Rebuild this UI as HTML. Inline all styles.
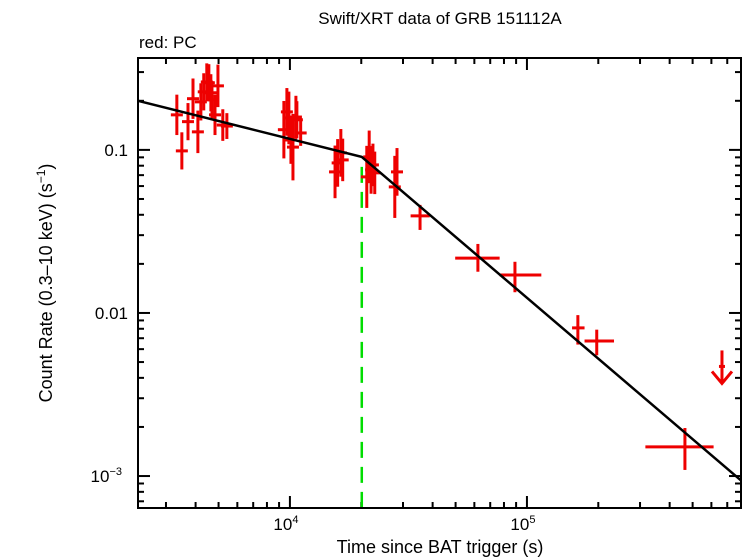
<!DOCTYPE html>
<html><head><meta charset="utf-8">
<style>
body{margin:0;background:#fff;}
svg{display:block;font-family:"Liberation Sans",sans-serif;}
</style></head>
<body>
<svg id="chart" width="746" height="558" viewBox="0 0 746 558" xmlns="http://www.w3.org/2000/svg">
<text x="440" y="24" font-size="17" text-anchor="middle">Swift/XRT data of GRB 151112A</text>
<text x="139" y="48" font-size="17">red: PC</text>
<text x="440" y="553" font-size="18" text-anchor="middle">Time since BAT trigger (s)</text>
<text transform="translate(52,283) rotate(-90)" font-size="18" text-anchor="middle">Count Rate (0.3–10 keV) (s<tspan font-size="12" dy="-7">−1</tspan><tspan dy="7">)</tspan></text>
<g id="ticks"></g>
<g id="marks"></g>
<rect x="138" y="58" width="603" height="450" fill="none" stroke="#000" stroke-width="2"/>
</svg>
<script>
const times=[3334,3500,3715,3900,4090,4210,4330,4460,4550,4640,4690,4830,4970,5210,5420,9430,9710,9900,10100,10300,10600,10700,11100,15500,15900,16400,16700,21100,21600,22000,22400,22800,27700,28300];
const rates=[0.164,0.0986,0.149,0.206,0.129,0.197,0.227,0.261,0.258,0.224,0.203,0.164,0.247,0.142,0.140,0.133,0.171,0.157,0.115,0.104,0.159,0.153,0.127,0.0733,0.0832,0.0959,0.0868,0.0683,0.0906,0.0754,0.0809,0.0723,0.0593,0.0733];
const rateErrFactor=[1.33,1.3,1.3,1.33,1.35,1.3,1.3,1.3,1.3,1.3,1.3,1.33,1.35,1.25,1.2,1.5,1.4,1.45,1.4,1.6,1.35,1.3,1.2,1.45,1.4,1.4,1.35,1.55,1.45,1.4,1.35,1.35,1.55,1.4];
const lateTimes=[35400,62100,89000,164000,197000,464000];
const lateTLo=[32300,49800,76700,155000,175000,316000];
const lateTHi=[38900,76700,115000,175000,233000,613000];
const lateRates=[0.0394,0.0217,0.0171,0.0081,0.00673,0.00151];
const lateRLo=[0.0323,0.0179,0.0134,0.0064,0.0055,0.00109];
const lateRHi=[0.046,0.0265,0.0206,0.0097,0.0079,0.00197];
const ulTime=[665000];const ulRate=[0.0047];
const modelT=[2286,20100,800000];const modelR=[0.2,0.0906,0.00094];
const breakTime=20100;
const xTickLabels=["10","10"];const xTickExp=["4","5"];const xTickVals=[1e4,1e5];
const yTickLabels=["0.1","0.01","10"];const yTickVals=[0.1,0.01,0.001];

const X0=138,X1=741,Y0=58,Y1=508;
const LX0=Math.log10(2286),LX1=Math.log10(800000);
const LY0=Math.log10(0.366),LY1=-3.196;
function xs(t){return X0+(Math.log10(t)-LX0)/(LX1-LX0)*(X1-X0);}
function ys(r){return Y0+(Math.log10(r)-LY0)/(LY1-LY0)*(Y1-Y0);}
const NS="http://www.w3.org/2000/svg";
const marks=document.getElementById('marks'),ticks=document.getElementById('ticks');
function el(tag,attrs,parent){const e=document.createElementNS(NS,tag);for(const k in attrs)e.setAttribute(k,attrs[k]);parent.appendChild(e);return e;}
for(let d=3;d<=5;d++)for(let m=1;m<10;m++){const t=m*Math.pow(10,d);if(t<2286||t>800000)continue;const x=xs(t);const L=m==1?12:6;
 const a=el('line',{x1:x,x2:x,y1:Y1,y2:Y1-L,stroke:'#000','stroke-width':2},ticks);
 
 const b=el('line',{x1:x,x2:x,y1:Y0,y2:Y0+L,stroke:'#000','stroke-width':2},ticks);
 }
for(let d=-4;d<=-1;d++)for(let m=1;m<10;m++){const r=m*Math.pow(10,d);if(r<Math.pow(10,LY1)||r>0.366)continue;const y=ys(r);const L=m==1?12:6;
 const a=el('line',{x1:X0,x2:X0+L,y1:y,y2:y,stroke:'#000','stroke-width':2},ticks);
 
 const b=el('line',{x1:X1,x2:X1-L,y1:y,y2:y,stroke:'#000','stroke-width':2},ticks);
 }
xTickVals.forEach((v,i)=>{const t=el('text',{x:xs(v)-4,y:530,'font-size':17,'text-anchor':'middle'},ticks);
 
 t.innerHTML=xTickLabels[i]+'<tspan font-size="11" dy="-7">'+xTickExp[i]+'</tspan>';});
yTickVals.forEach((v,i)=>{const t=el('text',{x:i==2?122:128,y:ys(v)+6,'font-size':17,'text-anchor':'end'},ticks);
 
 t.textContent=yTickLabels[i];
 if(i==2){const s=el('tspan',{'font-size':11,dy:-7},t);s.textContent='−3';}});
const bl=el('line',{x1:xs(breakTime),x2:xs(breakTime),y1:ys(modelR[1])+10,y2:Y1,stroke:'#00dd00','stroke-width':2.5,'stroke-dasharray':'16,9'},marks);

const red='#ee0000';
function cross(xa,xb,x,y,ya,yb,name){const g=el('g',{stroke:red,'stroke-width':3},marks);
 
 el('line',{x1:xa,x2:xb,y1:y,y2:y},g);el('line',{x1:x,x2:x,y1:ya,y2:yb},g);}
times.forEach((t,i)=>{const f=rateErrFactor[i];cross(xs(t/1.06),xs(t*1.06),xs(t),ys(rates[i]),ys(rates[i]*f),ys(rates[i]/f),'data-point');});
lateTimes.forEach((t,i)=>cross(xs(lateTLo[i]),xs(lateTHi[i]),xs(t),ys(lateRates[i]),ys(lateRHi[i]),ys(lateRLo[i]),'data-point'));
ulTime.forEach((t,i)=>{const x=xs(t),y=ys(ulRate[i]);const g=el('g',{stroke:red,'stroke-width':3,fill:'none'},marks);
 
 el('line',{x1:x-3,x2:x+3,y1:y,y2:y},g);el('line',{x1:x,x2:x,y1:y-16,y2:y+17},g);
 el('polyline',{points:(x-10)+','+(y+5)+' '+x+','+(y+17)+' '+(x+10)+','+(y+5)},g);});
const pts=modelT.map((t,i)=>xs(t)+','+ys(modelR[i])).join(' ');
const ml=el('polyline',{points:pts,fill:'none',stroke:'#000','stroke-width':2.5},marks);

</script>
</body></html>
